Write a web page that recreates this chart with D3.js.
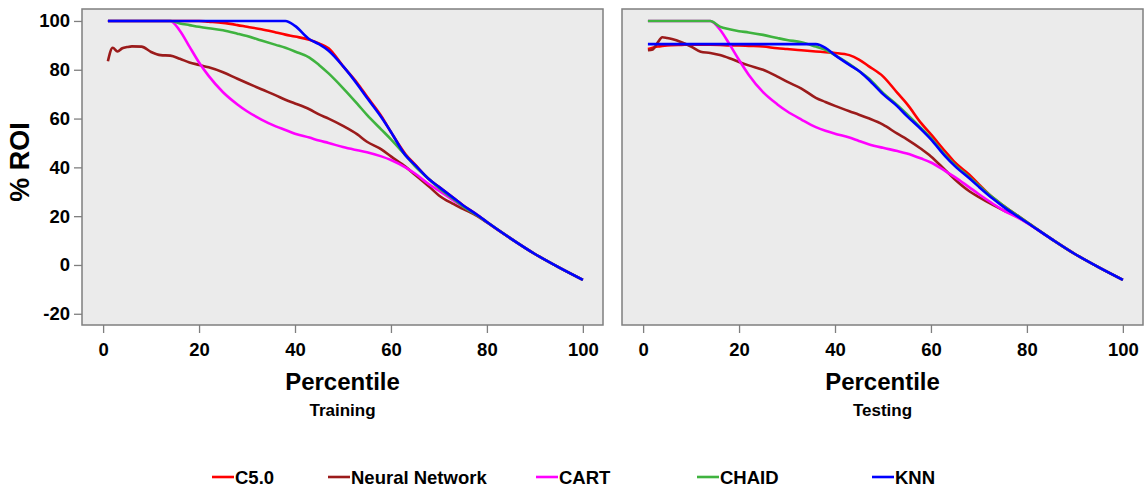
<!DOCTYPE html>
<html>
<head>
<meta charset="utf-8">
<script src="https://cdn.jsdelivr.net/npm/d3@7"></script>
<style>
body { margin: 0; background: #fff; }
svg text { font-family: "Liberation Sans", Arial, sans-serif; font-weight: bold; fill: #000; }
</style>
</head>
<body>
<svg id="chart" width="1144" height="489"></svg>
<script>
var percentiles = [1, 2, 3, 4, 5, 6, 8, 10, 12, 14, 16, 18, 20, 22, 25, 28, 30, 33, 36, 38, 40,
                   43, 45, 47, 50, 53, 55, 58, 60, 63, 65, 68, 70, 73, 75, 78, 80, 85, 90, 95, 100];

var model_names = ["C5.0", "Neural Network", "CART", "CHAID", "KNN"];
var model_colors = ["#ff0000", "#9b1b1b", "#ff00ff", "#3fb33f", "#0000ff"];

var panel_names = ["Training", "Testing"];
var x_ticks = [0, 20, 40, 60, 80, 100];
var y_ticks = [-20, 0, 20, 40, 60, 80, 100];

/* training */
var train_c50 = [100, 100, 100, 100, 100, 100, 100, 100, 100, 100, 100, 100, 100, 99.7, 99.2, 98.3, 97.6, 96.6, 95.3, 94.4, 93.6,
                 92.3, 90.8, 88.8, 81.5, 74.5, 69, 61, 54.5, 45.5, 41.2, 35, 32, 27.5, 24.5, 20.5, 17.6, 10.8, 4.5, -1.0, -6.1];
var train_nn = [83.5, 89, 87.5, 88.8, 89.3, 89.6, 89.5, 87.3, 86, 85.8, 84.5, 83, 82, 81, 79, 76.3, 74.6, 72, 69.5, 67.7, 66.2,
                63.8, 61.7, 60, 57, 53.5, 50.5, 47.4, 44.5, 40.3, 37, 32, 28.5, 25, 23, 20, 17.4, 10.8, 4.5, -1.0, -6.1];
var train_cart = [100, 100, 100, 100, 100, 100, 100, 100, 100, 100, 96, 89.5, 83, 77.5, 70.8, 65.8, 63, 59.6, 56.8, 55.3, 53.8,
                  52.2, 51, 50, 48.3, 47, 46.2, 44.5, 43, 40, 37.5, 33, 30.5, 26.5, 24, 20.5, 17.6, 10.8, 4.5, -1.0, -6.1];
var train_chaid = [100, 100, 100, 100, 100, 100, 100, 100, 100, 100, 99, 98.3, 97.6, 97, 96.2, 94.8, 93.8, 92, 90.2, 89, 87.5,
                   85, 82, 78.5, 72.5, 66, 61.5, 55.5, 51.5, 45, 40.5, 35, 31.5, 27, 24, 20.3, 17.6, 10.8, 4.5, -1.0, -6.1];
var train_knn = [100, 100, 100, 100, 100, 100, 100, 100, 100, 100, 100, 100, 100, 100, 100, 100, 100, 100, 100, 100, 98,
                 92.5, 90.5, 87.8, 81.5, 74, 68.5, 60.5, 54.5, 45, 41, 35, 32, 27.5, 24.5, 20.5, 17.6, 10.8, 4.5, -1.0, -6.1];

/* testing */
var test_c50 = [88.5, 89, 89.5, 89.8, 90, 90.1, 90.2, 90.3, 90.3, 90.3, 90.2, 90, 90, 89.8, 89.5, 88.8, 88.5, 88, 87.5, 87.2, 86.9,
                 86, 84.2, 81.5, 77.3, 70.5, 66, 58, 53.5, 46.5, 42, 37, 33, 27.4, 24.5, 20.3, 17.6, 10.8, 4.5, -1.0, -6.1];
var test_nn = [88, 88.3, 91, 93.3, 93, 92.6, 91.3, 89.5, 87.4, 86.9, 86, 84.7, 83.2, 81.8, 80, 77.2, 75.1, 72.3, 68.5, 66.8, 65.2,
               63, 61.6, 60.1, 57.5, 53.8, 51.5, 47.5, 44.5, 38.8, 35, 30.2, 27.8, 24.5, 22.5, 19.8, 17.3, 10.8, 4.5, -1.0, -6.1];
var test_cart = [100, 100, 100, 100, 100, 100, 100, 100, 100, 100, 96.5, 90.5, 84, 78, 70.8, 65.8, 63, 59.6, 56.5, 55, 53.8,
                 52.2, 50.8, 49.5, 48, 46.7, 45.7, 43.6, 42, 38.5, 36, 31.8, 29, 25, 22.5, 19.5, 17.3, 10.8, 4.5, -1.0, -6.1];
var test_chaid = [100, 100, 100, 100, 100, 100, 100, 100, 100, 100, 97.7, 96.6, 95.8, 95.3, 94.3, 93, 92.2, 91.3, 89.5, 88.2, 86,
                  82.3, 79.5, 76.5, 70.5, 65.5, 61.8, 56, 52, 45, 41, 36, 32.5, 27.5, 24.5, 20.3, 17.6, 10.8, 4.5, -1.0, -6.1];
var test_knn = [90.5, 90.5, 90.5, 90.5, 90.5, 90.5, 90.5, 90.5, 90.5, 90.5, 90.5, 90.5, 90.5, 90.5, 90.5, 90.5, 90.5, 90.5, 90.5, 89, 86,
                82, 79.5, 76, 70, 65, 61, 55.5, 51.5, 44.5, 40.5, 35.5, 32, 27, 24, 20, 17.4, 10.8, 4.5, -1.0, -6.1];

var panel_series = [
    [train_c50, train_nn, train_cart, train_chaid, train_knn],
    [test_c50, test_nn, test_cart, test_chaid, test_knn]
];

/* layout */
var panel_left = [82, 622];
var panel_top = 9;
var panel_width = 521;
var panel_height = 316;

function draw_panel(svg, p) {
    var g = svg.append("g").attr("transform", "translate(" + panel_left[p] + "," + panel_top + ")");
    var x = d3.scaleLinear().domain([-4.4, 104.2]).range([0, panel_width]);
    var y = d3.scaleLinear().domain([-24.6, 104.9]).range([panel_height, 0]);

    g.append("rect").attr("width", panel_width).attr("height", panel_height)
        .attr("fill", "#ebebeb");

    var line = d3.line()
        .x(function (d, i) { return x(percentiles[i]); })
        .y(function (d) { return y(d); })
        .curve(d3.curveMonotoneX);

    g.selectAll("path.series").data(panel_series[p]).enter().append("path")
        .attr("class", "series")
        .attr("d", line)
        .attr("fill", "none")
        .attr("stroke", function (d, i) { return model_colors[i]; })
        .attr("stroke-width", 2.6)
        .attr("stroke-linejoin", "round");

    g.append("rect").attr("width", panel_width).attr("height", panel_height)
        .attr("fill", "none").attr("stroke", "#7f7f7f").attr("stroke-width", 1.5);

    /* plain hyphen for negatives, like the original */
    var fmt = function (d) { return String(d); };

    var xaxis = g.append("g").attr("transform", "translate(0," + panel_height + ")")
        .call(d3.axisBottom(x).tickValues(x_ticks).tickFormat(fmt).tickSize(8).tickPadding(10));
    xaxis.select(".domain").remove();
    xaxis.selectAll("line").attr("stroke", "#7f7f7f").attr("stroke-width", 1.3);
    xaxis.selectAll("text").attr("font-size", 18.5).attr("font-family", null);

    if (p == 0) {
        var yaxis = g.append("g")
            .call(d3.axisLeft(y).tickValues(y_ticks).tickFormat(fmt).tickSize(8).tickPadding(4));
        yaxis.select(".domain").remove();
        yaxis.selectAll("line").attr("stroke", "#7f7f7f").attr("stroke-width", 1.3);
        yaxis.selectAll("text").attr("font-size", 18.5).attr("font-family", null);
    }

    g.append("text").attr("x", panel_width / 2).attr("y", 381)
        .attr("text-anchor", "middle").attr("font-size", 24).text("Percentile");
    g.append("text").attr("x", panel_width / 2).attr("y", 407)
        .attr("text-anchor", "middle").attr("font-size", 17).text(panel_names[p]);
}

function draw_legend(svg) {
    var legend_x = [212, 328, 536, 697, 872];
    var items = svg.selectAll("g.legend").data(model_names).enter().append("g")
        .attr("class", "legend")
        .attr("transform", function (d, i) { return "translate(" + legend_x[i] + ",477)"; });
    items.append("line").attr("x1", 0).attr("x2", 22).attr("y1", 0).attr("y2", 0)
        .attr("stroke", function (d, i) { return model_colors[i]; })
        .attr("stroke-width", 2.6);
    items.append("text").attr("x", 23).attr("y", 6.5).attr("font-size", 18.5)
        .text(function (d) { return d; });
}

window.onload = function () {
    var svg = d3.select("svg#chart");
    draw_panel(svg, 0);
    draw_panel(svg, 1);
    svg.append("text").attr("transform", "translate(29,162) rotate(-90)")
        .attr("text-anchor", "middle").attr("font-size", 27).text("% ROI");
    draw_legend(svg);
}
</script>
</body>
</html>
